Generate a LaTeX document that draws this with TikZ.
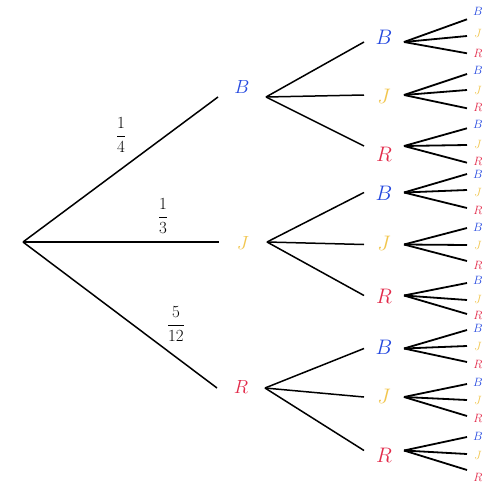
\RequirePackage{fix-cm}
\documentclass[tikz,border=0pt]{standalone}
\definecolor{cB}{HTML}{2448E0}
\definecolor{cJ}{HTML}{F2C64E}
\definecolor{cR}{HTML}{E32A4A}
\newcommand\leaves[7]{%
  \node[n3,text=cB] (#1b) at (478,#2) {\raisebox{\dimexpr#3pt-0.7pt\relax}{$B$}};
  \node[n3,text=cJ] (#1j) at (478,#4) {\raisebox{\dimexpr#5pt-0.7pt\relax}{$J$}};
  \node[n3,text=cR] (#1r) at (478,#6) {\raisebox{\dimexpr#7pt-0.7pt\relax}{$R$}};
  \draw[edge3] (#1.east) -- (#1b.west);
  \draw[edge3] (#1.east) -- (#1j.west);
  \draw[edge3] (#1.east) -- (#1r.west);
}
\begin{document}
\begin{tikzpicture}[x=1pt,y=-1pt,
  lbl/.style={inner sep=0pt, outer sep=0pt, minimum height=0pt, text height=0pt, text depth=0pt},
  n1/.style={lbl, minimum width=48pt, font=\fontsize{19}{23}\selectfont},
  n2/.style={lbl, minimum width=40pt, font=\fontsize{21}{25}\selectfont},
  n3/.style={lbl, minimum width=22pt, font=\fontsize{12}{14}\selectfont},
  edge/.style={line width=1.5pt, black},
  edge3/.style={line width=1.8pt, black},
  frac/.style={inner sep=0pt, font=\fontsize{17}{20}\selectfont}]
\useasboundingbox[fill=white] (0,0) rectangle (493,482);
\coordinate (root) at (23,242);
% level 1
\node[n1,text=cB] (B) at (242,97) {\raisebox{3.5pt}{$B$}};
\node[n1,text=cJ] (J) at (243,242) {\raisebox{-7.5pt}{$J$}};
\node[n1,text=cR] (R) at (241,388) {\raisebox{-5.5pt}{$R$}};
\draw[edge] (root) -- (B.west);
\draw[edge] (root) -- (J.west);
\draw[edge] (root) -- (R.west);
\node[frac] (f1) at (121,135) {$\displaystyle\frac{1}{4}$};
\node[frac] (f2) at (163,216) {$\displaystyle\frac{1}{3}$};
\node[frac] (f3) at (176,324) {$\displaystyle\frac{5}{12}$};
% level 2
\node[n2,text=cB] (BB) at (384,42) {\raisebox{-2.2pt}{$B$}};
\node[n2,text=cJ] (BJ) at (384,95) {\raisebox{-8.7pt}{$J$}};
\node[n2,text=cR] (BR) at (384,146) {\raisebox{-15.2pt}{$R$}};
\node[n2,text=cB] (JB) at (384,192.5) {\raisebox{-8pt}{$B$}};
\node[n2,text=cJ] (JJ) at (384,244.5) {\raisebox{-6pt}{$J$}};
\node[n2,text=cR] (JR) at (384,295.5) {\raisebox{-8.4pt}{$R$}};
\node[n2,text=cB] (RB) at (384,348.5) {\raisebox{-6pt}{$B$}};
\node[n2,text=cJ] (RJ) at (384,397) {\raisebox{-6.2pt}{$J$}};
\node[n2,text=cR] (RR) at (384,450.5) {\raisebox{-11.7pt}{$R$}};
\foreach \p in {B,J,R}{
  \foreach \c in {B,J,R}{
    \draw[edge] (\p.east) -- (\p\c.west);
  }
}
% level 3
\leaves{BB}{19.3}{4.9}{36}{-0.7}{53.3}{-3.4}
\leaves{BJ}{74}{0.6}{90}{-3.4}{108.3}{-2.1}
\leaves{BR}{128.3}{0.9}{145}{-2.4}{162.7}{-2.4}
\leaves{JB}{174}{-3.4}{190}{-5.4}{208}{-5.4}
\leaves{JJ}{228}{-2.4}{245}{-3.4}{261}{-7.4}
\leaves{JR}{283}{-0.4}{300}{-2.4}{314}{-4.4}
\leaves{RB}{330}{-1.4}{346}{-3.4}{362}{-5.4}
\leaves{RJ}{384}{-1.4}{400}{-3.4}{416}{-5.4}
\leaves{RR}{437}{-2.4}{454}{-4.4}{470}{-10.4}
\end{tikzpicture}
\end{document}
